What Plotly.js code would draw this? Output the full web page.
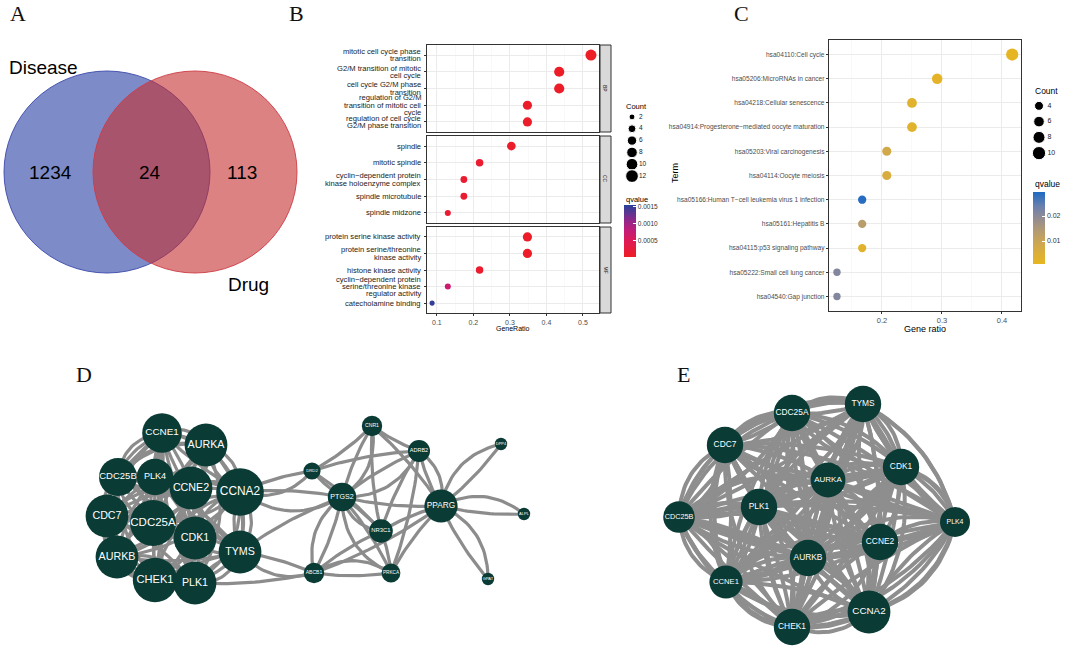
<!DOCTYPE html>
<html><head><meta charset="utf-8">
<script src="https://cdn.plot.ly/plotly-3.0.1.min.js"></script>
<style>html,body{margin:0;padding:0;background:#fff;}#chart{width:1065px;height:650px;}</style>
</head><body><div id="chart"></div>
<script>
const W = 1065, H = 650;
// ================= DATA =================
// Panel A: Venn
const vennLabels = ['Disease', 'Drug'];
const vennCounts = [1234, 24, 113]; // disease only, shared, drug only

// Panel B: GO enrichment (BP / CC / MF)
const bpTerms = ['mitotic cell cycle phase<br>transition', 'G2/M transition of mitotic<br>cell cycle', 'cell cycle G2/M phase<br>transition', 'regulation of G2/M<br>transition of mitotic cell<br>cycle', 'regulation of cell cycle<br>G2/M phase transition'];
const bpRatio = [0.522, 0.435, 0.435, 0.348, 0.348];
const bpCount = [12, 10, 10, 8, 8];
const bpQ = [0.00002, 0.00003, 0.00003, 0.00006, 0.00006];

const ccTerms = ['spindle', 'mitotic spindle', 'cyclin−dependent protein<br>kinase holoenzyme complex', 'spindle microtubule', 'spindle midzone'];
const ccRatio = [0.304, 0.217, 0.174, 0.174, 0.130];
const ccCount = [7, 5, 4, 4, 3];
const ccQ = [0.00008, 0.0001, 0.00012, 0.00012, 0.00015];

const mfTerms = ['protein serine kinase activity', 'protein serine/threonine<br>kinase activity', 'histone kinase activity', 'cyclin−dependent protein<br>serine/threonine kinase<br>regulator activity', 'catecholamine binding'];
const mfRatio = [0.348, 0.348, 0.217, 0.130, 0.087];
const mfCount = [8, 8, 5, 3, 2];
const mfQ = [0.00005, 0.00005, 0.0001, 0.0007, 0.0015];

const facetNames = ['BP', 'CC', 'MF'];
const bTicks = [0.1, 0.2, 0.3, 0.4, 0.5];
const bLegendCounts = [2, 4, 6, 8, 10, 12];
const bQTicks = [0.0005, 0.0010, 0.0015];
const bQTickText = ['0.0005', '0.0010', '0.0015'];

// Panel C: KEGG enrichment
const keggTerms = ['hsa04110:Cell cycle', 'hsa05206:MicroRNAs in cancer', 'hsa04218:Cellular senescence', 'hsa04914:Progesterone−mediated oocyte maturation', 'hsa05203:Viral carcinogenesis', 'hsa04114:Oocyte meiosis', 'hsa05166:Human T−cell leukemia virus 1 infection', 'hsa05161:Hepatitis B', 'hsa04115:p53 signaling pathway', 'hsa05222:Small cell lung cancer', 'hsa04540:Gap junction'];
const keggRatio = [0.417, 0.292, 0.250, 0.250, 0.208, 0.208, 0.167, 0.167, 0.167, 0.125, 0.125];
const keggCount = [10, 7, 6, 6, 5, 5, 4, 4, 4, 3, 3];
const keggQ = [0.0015, 0.0022, 0.003, 0.003, 0.008, 0.006, 0.029, 0.013, 0.003, 0.021, 0.021];
const cTicks = [0.2, 0.3, 0.4];
const cLegendCounts = [4, 6, 8, 10];
const cQTicks = [0.01, 0.02];

// Panel D: network (node names and degree-like scores)
const dNodes = ['CCNE1', 'AURKA', 'CDC25B', 'PLK4', 'CCNE2', 'CCNA2', 'CDC7', 'CDC25A', 'CDK1', 'TYMS', 'AURKB', 'CHEK1', 'PLK1',
  'CNR1', 'ADRB2', 'DPP4', 'DRD2', 'PTGS2', 'PPARG', 'ALPL', 'NR3C1', 'ABCB1', 'PRKCA', 'GPAT'];
const dScore = [21, 23, 20, 19, 23, 26, 23, 25, 23, 23, 23, 24, 23,
  9, 10, 4, 7, 14, 17, 4, 11, 9, 8, 4];
const dCluster = ['CCNE1', 'AURKA', 'CDC25B', 'PLK4', 'CCNE2', 'CCNA2', 'CDC7', 'CDC25A', 'CDK1', 'TYMS', 'AURKB', 'CHEK1', 'PLK1'];
const dLinks = [
  ['CCNA2', 'DRD2'], ['CCNA2', 'DRD2'], ['CCNA2', 'PTGS2'], ['CCNA2', 'PTGS2'], ['TYMS', 'ABCB1'], ['TYMS', 'ABCB1'], ['TYMS', 'PTGS2'], ['PLK1', 'ABCB1'],
  ['CNR1', 'DRD2'], ['CNR1', 'PTGS2'], ['CNR1', 'PTGS2'], ['CNR1', 'ADRB2'], ['CNR1', 'PPARG'], ['CNR1', 'NR3C1'],
  ['DRD2', 'ADRB2'], ['DRD2', 'PTGS2'], ['DRD2', 'NR3C1'],
  ['ADRB2', 'PTGS2'], ['ADRB2', 'PTGS2'], ['ADRB2', 'PPARG'], ['ADRB2', 'PPARG'], ['ADRB2', 'NR3C1'], ['ADRB2', 'PRKCA'],
  ['PTGS2', 'PPARG'], ['PTGS2', 'NR3C1'], ['PTGS2', 'NR3C1'], ['PTGS2', 'ABCB1'], ['PTGS2', 'ABCB1'], ['PTGS2', 'PRKCA'], ['PTGS2', 'PRKCA'],
  ['NR3C1', 'PPARG'], ['NR3C1', 'ABCB1'], ['NR3C1', 'PRKCA'],
  ['ABCB1', 'PRKCA'], ['ABCB1', 'PRKCA'], ['ABCB1', 'PPARG'], ['PRKCA', 'PPARG'],
  ['PPARG', 'DPP4'], ['PPARG', 'DPP4'], ['PPARG', 'ALPL'], ['PPARG', 'ALPL'], ['PPARG', 'GPAT'], ['PPARG', 'GPAT']
];
const dRing = ['CDC25B', 'CCNE1', 'AURKA', 'CCNA2', 'TYMS', 'PLK1', 'CHEK1', 'AURKB', 'CDC7'];

// Panel E: hub-gene network
const eNodes = ['TYMS', 'CDC25A', 'CDC7', 'CDK1', 'AURKA', 'PLK1', 'CDC25B', 'PLK4', 'CCNE2', 'AURKB', 'CCNE1', 'CCNA2', 'CHEK1'];
const eScore = [19, 19, 19, 19, 18, 19, 16, 15, 19, 19, 17, 23, 19];
const eRing = ['CDC25A', 'TYMS', 'CDK1', 'PLK4', 'CCNA2', 'CHEK1', 'CCNE1', 'CDC25B', 'CDC7'];

// ================= LAYOUT GEOMETRY =================
const dPos = {
  CCNE1: [162, 433], AURKA: [206, 445], CDC25B: [118, 477], PLK4: [155, 477], CCNE2: [191, 488], CCNA2: [240, 492],
  CDC7: [107, 516], CDC25A: [153, 523], CDK1: [195, 538], TYMS: [240, 552], AURKB: [117, 557], CHEK1: [155, 580], PLK1: [195, 583],
  CNR1: [372, 426], ADRB2: [419, 451], DPP4: [501, 444], DRD2: [312, 471], PTGS2: [342, 497], PPARG: [441, 506],
  ALPL: [524, 514], NR3C1: [381, 531], ABCB1: [314, 573], PRKCA: [391, 573], GPAT: [488, 579]
};
const ePos = {
  TYMS: [863, 404], CDC25A: [792, 413], CDC7: [725, 445], CDK1: [901, 467], AURKA: [828, 480], PLK1: [759, 507],
  CDC25B: [679, 517], PLK4: [955, 522], CCNE2: [880, 542], AURKB: [808, 558], CCNE1: [726, 582], CCNA2: [869, 612], CHEK1: [792, 627]
};

function dx(a, b) { return [a / W, b / W]; }
function dy(a, b) { return [1 - b / H, 1 - a / H]; }
const FONT = 'Liberation Sans, Arial, Helvetica, sans-serif';
const SERIF = 'Liberation Serif, Times New Roman, serif';

// ---- curves ----
function curvePts(p, q, c, n) {
  const mx = (p[0] + q[0]) / 2, my = (p[1] + q[1]) / 2;
  const ddx = q[0] - p[0], ddy = q[1] - p[1];
  const cx = mx - ddy * c, cy = my + ddx * c;
  const xs = [], ys = [];
  for (let i = 0; i <= n; i++) {
    const t = i / n;
    xs.push((1 - t) * (1 - t) * p[0] + 2 * (1 - t) * t * cx + t * t * q[0]);
    ys.push((1 - t) * (1 - t) * p[1] + 2 * (1 - t) * t * cy + t * t * q[1]);
  }
  return [xs, ys];
}
function outwardCurv(pos, a, b, mag, cen) {
  const p = pos[a], q = pos[b];
  const mx = (p[0] + q[0]) / 2, my = (p[1] + q[1]) / 2;
  const ddx = q[0] - p[0], ddy = q[1] - p[1];
  const d1 = Math.hypot(mx - ddy * mag - cen[0], my + ddx * mag - cen[1]);
  const d2 = Math.hypot(mx + ddy * mag - cen[0], my - ddx * mag - cen[1]);
  return d1 > d2 ? mag : -mag;
}
function centroid(pos, names) {
  let sx = 0, sy = 0; names.forEach(n => { sx += pos[n][0]; sy += pos[n][1]; });
  return [sx / names.length, sy / names.length];
}
function edgeTrace(pos, edges, xa, ya, width, color) {
  const x = [], y = [];
  edges.forEach(([a, b, c]) => {
    const [xs, ys] = curvePts(pos[a], pos[b], c, 22);
    x.push(...xs, null); y.push(...ys, null);
  });
  return { type: 'scatter', mode: 'lines', x, y, xaxis: xa, yaxis: ya, line: { color, width }, hoverinfo: 'skip', showlegend: false };
}
const curvPattern = [0.14, -0.2, 0.26, -0.1, 0.32, -0.28, 0.06, 0.2, -0.34];

// D edges
const dEdges = [];
for (let i = 0; i < dCluster.length; i++) for (let j = i + 1; j < dCluster.length; j++) {
  dEdges.push([dCluster[i], dCluster[j], curvPattern[(i * 5 + j * 3) % curvPattern.length]]);
}
const dCen = centroid(dPos, dCluster);
for (let k = 0; k < dRing.length; k++) {
  const a = dRing[k], b = dRing[(k + 1) % dRing.length], c2 = dRing[(k + 2) % dRing.length];
  dEdges.push([a, b, outwardCurv(dPos, a, b, 0.38, dCen)]);
  dEdges.push([a, c2, outwardCurv(dPos, a, c2, 0.3, dCen)]);
}
const seen = {};
dLinks.forEach(([a, b], i) => {
  const key = a + '-' + b; seen[key] = (seen[key] || 0) + 1;
  const occ = seen[key] - 1;
  const c = occ === 0 ? (i % 2 ? 0.07 : -0.07) : (i % 2 ? 0.32 : -0.32);
  dEdges.push([a, b, c]);
});

// E edges
const eEdges = [];
for (let i = 0; i < eNodes.length; i++) for (let j = i + 1; j < eNodes.length; j++) {
  const c = curvPattern[(i * 7 + j * 2) % curvPattern.length] * 0.8;
  eEdges.push([eNodes[i], eNodes[j], c]);
  eEdges.push([eNodes[i], eNodes[j], -c * 0.5]);
}
const eCen = centroid(ePos, eNodes);
for (let k = 0; k < eRing.length; k++) {
  const a = eRing[k], b = eRing[(k + 1) % eRing.length], c2 = eRing[(k + 2) % eRing.length];
  eEdges.push([a, b, outwardCurv(ePos, a, b, 0.3, eCen)]);
  eEdges.push([a, b, outwardCurv(ePos, a, b, 0.15, eCen)]);
  eEdges.push([a, c2, outwardCurv(ePos, a, c2, 0.22, eCen)]);
}

// ================= TRACES =================
const bScale = [[0, '#ee1d24'], [0.3, '#df1a55'], [0.5, '#c51c78'], [0.7, '#912789'], [0.85, '#5c3592'], [1, '#29409a']];
const cScale = [[0, '#e8b620'], [0.25, '#d2a94a'], [0.45, '#b59c70'], [0.65, '#8f8a94'], [0.8, '#6a80ad'], [1, '#1e6ac2']];
const bSize = c => 2.9 * Math.sqrt(c) + 1;
const cSize = c => 3.4 * Math.sqrt(c) + 1.5;
const bCmin = 0, bCmax = 0.00155;
const cCmin = 0.0008, cCmax = 0.0296;

function bTrace(terms, ratio, count, q, xa, ya, showscale) {
  return {
    type: 'scatter', mode: 'markers', x: ratio, y: terms, xaxis: xa, yaxis: ya, hoverinfo: 'skip', showlegend: false,
    marker: {
      size: count.map(bSize), color: q, colorscale: bScale, cmin: bCmin, cmax: bCmax, showscale, line: { width: 0 }, opacity: 1,
      colorbar: {
        x: 624 / W, xanchor: 'left', y: 1 - 205 / H, yanchor: 'top', len: 52, lenmode: 'pixels', thickness: 12, thicknessmode: 'pixels',
        xpad: 0, ypad: 0, outlinewidth: 0, tickvals: bQTicks, ticktext: bQTickText, ticks: 'inside', ticklen: 3, tickcolor: 'white',
        tickfont: { size: 6.5, color: '#333', family: FONT }
      }
    }
  };
}

const traces = [
  bTrace(bpTerms, bpRatio, bpCount, bpQ, 'x2', 'y2', true),
  bTrace(ccTerms, ccRatio, ccCount, ccQ, 'x3', 'y3', false),
  bTrace(mfTerms, mfRatio, mfCount, mfQ, 'x4', 'y4', false),
  {
    type: 'scatter', mode: 'markers', x: keggRatio, y: keggTerms, xaxis: 'x5', yaxis: 'y5', hoverinfo: 'skip', showlegend: false,
    marker: {
      size: keggCount.map(cSize), color: keggQ, colorscale: cScale, cmin: cCmin, cmax: cCmax, showscale: true, line: { width: 0 }, opacity: 1,
      colorbar: {
        x: 1033 / W, xanchor: 'left', y: 1 - 192 / H, yanchor: 'top', len: 72, lenmode: 'pixels', thickness: 12, thicknessmode: 'pixels',
        xpad: 0, ypad: 0, outlinewidth: 0, tickvals: cQTicks, ticktext: cQTicks.map(v => v.toFixed(2)), ticks: 'inside', ticklen: 3, tickcolor: 'white',
        tickfont: { size: 7, color: '#333', family: FONT }
      }
    }
  },
  // B count legend
  { type: 'scatter', mode: 'markers', x: bLegendCounts.map(() => 0), y: bLegendCounts.map(String), xaxis: 'x6', yaxis: 'y6', hoverinfo: 'skip', showlegend: false,
    marker: { size: bLegendCounts.map(c => bSize(c) * 1.15), color: '#000', opacity: 1 } },
  { type: 'scatter', mode: 'text', x: bLegendCounts.map(() => 1), y: bLegendCounts.map(String), text: bLegendCounts.map(String), textposition: 'middle right',
    xaxis: 'x6', yaxis: 'y6', hoverinfo: 'skip', showlegend: false, textfont: { size: 6.5, color: '#222', family: FONT } },
  // C count legend
  { type: 'scatter', mode: 'markers', x: cLegendCounts.map(() => 0), y: cLegendCounts.map(String), xaxis: 'x7', yaxis: 'y7', hoverinfo: 'skip', showlegend: false,
    marker: { size: cLegendCounts.map(c => cSize(c) * 1.08), color: '#000', opacity: 1 } },
  { type: 'scatter', mode: 'text', x: cLegendCounts.map(() => 1.2), y: cLegendCounts.map(String), text: cLegendCounts.map(String), textposition: 'middle right',
    xaxis: 'x7', yaxis: 'y7', hoverinfo: 'skip', showlegend: false, textfont: { size: 7, color: '#222', family: FONT } },
  // D network
  edgeTrace(dPos, dEdges, 'x8', 'y8', 3.2, '#8c8c8c'),
  { type: 'scatter', mode: 'markers+text', x: dNodes.map(n => dPos[n][0]), y: dNodes.map(n => dPos[n][1]), text: dNodes, textposition: 'middle center',
    xaxis: 'x8', yaxis: 'y8', hoverinfo: 'skip', showlegend: false,
    marker: { size: dScore.map(s => 6 + 1.6 * s), color: '#0a3b35', line: { width: 0 }, opacity: 1 },
    textfont: { color: '#ffffff', family: FONT, size: dScore.map(s => Math.max(4, (6 + 1.6 * s) * 0.25)) } },
  // E network
  edgeTrace(ePos, eEdges, 'x9', 'y9', 4, '#8e8e8e'),
  { type: 'scatter', mode: 'markers+text', x: eNodes.map(n => ePos[n][0]), y: eNodes.map(n => ePos[n][1]), text: eNodes, textposition: 'middle center',
    xaxis: 'x9', yaxis: 'y9', hoverinfo: 'skip', showlegend: false,
    marker: { size: eScore.map(s => 6 + 1.6 * s), color: '#0a3b35', line: { width: 0 }, opacity: 1 },
    textfont: { color: '#ffffff', family: FONT, size: eScore.map(s => (6 + 1.6 * s) * 0.23) } }
];

// ================= AXES =================
const hidden = { visible: false, fixedrange: true };
function bY(dom, terms, xa) {
  return { domain: dom, anchor: xa, type: 'category', categoryarray: terms, categoryorder: 'array', range: [terms.length - 0.4, -0.6],
    showline: true, mirror: true, linecolor: '#333', linewidth: 1.2, ticks: 'outside', ticklen: 2, tickcolor: '#333', showticklabels: false,
    showgrid: true, gridcolor: '#ebebeb', gridwidth: 1, zeroline: false, fixedrange: true };
}
function bX(ya, showLabels) {
  return { domain: dx(427, 599), anchor: ya, range: [0.073, 0.544], tickvals: bTicks, ticktext: bTicks.map(v => v.toFixed(1)),
    showticklabels: showLabels, ticks: showLabels ? 'outside' : '', ticklen: 2, tickcolor: '#333',
    showline: true, mirror: true, linecolor: '#333', linewidth: 1.2, showgrid: true, gridcolor: '#ebebeb', gridwidth: 1, zeroline: false,
    minor: { dtick: 0.05, tick0: 0, showgrid: true, gridcolor: '#f5f5f5', gridwidth: 0.6, ticks: '' },
    tickfont: { size: 7, color: '#4d4d4d', family: FONT }, fixedrange: true };
}

const layout = {
  width: W, height: H, margin: { l: 0, r: 0, t: 0, b: 0 }, paper_bgcolor: '#fff', plot_bgcolor: '#fff', showlegend: false,
  font: { family: FONT },
  xaxis: Object.assign({ domain: dx(0, 300), range: [0, 300], anchor: 'y' }, hidden),
  yaxis: Object.assign({ domain: dy(30, 300), range: [300, 30], anchor: 'x' }, hidden),
  xaxis2: bX('y2', false), yaxis2: bY(dy(45, 132), bpTerms, 'x2'),
  xaxis3: bX('y3', false), yaxis3: bY(dy(136, 223), ccTerms, 'x3'),
  xaxis4: bX('y4', true), yaxis4: bY(dy(227, 313), mfTerms, 'x4'),
  xaxis5: { domain: dx(829, 1021), anchor: 'y5', range: [0.1117, 0.4317], tickvals: cTicks, ticktext: cTicks.map(v => v.toFixed(1)),
    ticks: 'outside', ticklen: 2, tickcolor: '#333', showline: true, mirror: true, linecolor: '#333', linewidth: 1.2,
    showgrid: true, gridcolor: '#ebebeb', gridwidth: 1, zeroline: false,
    minor: { dtick: 0.05, tick0: 0, showgrid: true, gridcolor: '#f5f5f5', gridwidth: 0.6, ticks: '' },
    tickfont: { size: 7.5, color: '#4d4d4d', family: FONT }, fixedrange: true },
  yaxis5: { domain: dy(40, 311), anchor: 'x5', type: 'category', categoryarray: keggTerms, categoryorder: 'array', range: [keggTerms.length - 0.4, -0.6],
    showline: true, mirror: true, linecolor: '#333', linewidth: 1.2, ticks: 'outside', ticklen: 2, tickcolor: '#333',
    showgrid: true, gridcolor: '#ebebeb', gridwidth: 1, tickfont: { size: 6.6, color: '#4d4d4d', family: FONT }, zeroline: false, fixedrange: true },
  xaxis6: Object.assign({ domain: dx(625, 660), range: [-1, 4], anchor: 'y6' }, hidden),
  yaxis6: Object.assign({ domain: dy(111, 182), type: 'category', categoryarray: bLegendCounts.map(String), range: [5.5, -0.5], anchor: 'x6' }, hidden),
  xaxis7: Object.assign({ domain: dx(1032, 1064), range: [-1, 3.57], anchor: 'y7' }, hidden),
  yaxis7: Object.assign({ domain: dy(98, 161), type: 'category', categoryarray: cLegendCounts.map(String), range: [3.5, -0.5], anchor: 'x7' }, hidden),
  xaxis8: Object.assign({ domain: dx(55, 565), range: [55, 565], anchor: 'y8' }, hidden),
  yaxis8: Object.assign({ domain: dy(360, 645), range: [645, 360], anchor: 'x8' }, hidden),
  xaxis9: Object.assign({ domain: dx(640, 1010), range: [640, 1010], anchor: 'y9' }, hidden),
  yaxis9: Object.assign({ domain: dy(365, 650), range: [650, 365], anchor: 'x9' }, hidden),
  shapes: [
    { type: 'circle', xref: 'x', yref: 'y', x0: 4, x1: 210, y0: 71, y1: 273, fillcolor: 'rgba(38,63,163,0.6)', line: { color: 'rgba(60,72,170,0.9)', width: 1 }, layer: 'below' },
    { type: 'circle', xref: 'x', yref: 'y', x0: 93, x1: 297, y0: 71, y1: 273, fillcolor: 'rgba(197,47,47,0.6)', line: { color: 'rgba(205,60,70,0.9)', width: 1 }, layer: 'below' }
  ],
  annotations: []
};

// B term labels: one annotation per wrapped line, tight line spacing like ggplot
const LINE_GAP = 7.4;
[[bpTerms, 'y2'], [ccTerms, 'y3'], [mfTerms, 'y4']].forEach(([terms, ya]) => {
  terms.forEach((t, i) => {
    const lines = t.split('<br>');
    lines.forEach((ln, k) => {
      layout.annotations.push({ xref: 'paper', yref: ya, x: 422 / W, y: i, text: ln, showarrow: false, xanchor: 'right', yanchor: 'middle',
        yshift: -(k - (lines.length - 1) / 2) * LINE_GAP, font: { size: 7.6, color: '#222', family: FONT }, borderpad: 0 });
    });
  });
});

// strips for facets
const stripY = [[45, 132], [136, 223], [227, 313]];
facetNames.forEach((f, i) => {
  layout.shapes.push({ type: 'rect', xref: 'paper', yref: 'paper', x0: 600 / W, x1: 611 / W, y0: 1 - stripY[i][1] / H, y1: 1 - stripY[i][0] / H,
    fillcolor: '#d9d9d9', line: { color: '#333', width: 1 } });
  layout.annotations.push({ xref: 'paper', yref: 'paper', x: 605.5 / W, y: 1 - (stripY[i][0] + stripY[i][1]) / 2 / H, text: f, showarrow: false,
    textangle: 90, font: { size: 5, color: '#1a1a1a', family: FONT }, xanchor: 'center', yanchor: 'middle' });
});

function ann(x, y, text, size, opts) {
  return Object.assign({ xref: 'paper', yref: 'paper', x: x / W, y: 1 - y / H, text, showarrow: false, xanchor: 'center', yanchor: 'middle',
    font: { size, color: '#000', family: FONT } }, opts || {});
}
// panel letters
[['A', 18, 13], ['B', 296, 13], ['C', 741, 13], ['D', 84, 375], ['E', 683, 374]].forEach(([t, x, y]) => {
  layout.annotations.push(ann(x, y, t, 22, { font: { size: 22, color: '#111', family: SERIF } }));
});
// venn text
layout.annotations.push(ann(43, 67, vennLabels[0], 19));
layout.annotations.push(ann(248, 284, vennLabels[1], 19));
layout.annotations.push(ann(50, 172, String(vennCounts[0]), 19));
layout.annotations.push(ann(150, 172, String(vennCounts[1]), 19));
layout.annotations.push(ann(242, 172, String(vennCounts[2]), 19));
// B legend / axis titles
layout.annotations.push(ann(513, 328, 'GeneRatio', 7));
layout.annotations.push(ann(624, 106, 'Count', 7.5, { xanchor: 'left' }));
layout.annotations.push(ann(624, 199, 'qvalue', 7.5, { xanchor: 'left' }));
// C legend / axis titles
layout.annotations.push(ann(925, 329, 'Gene ratio', 9));
layout.annotations.push(ann(675, 173, 'Term', 9, { textangle: -90 }));
layout.annotations.push(ann(1033, 91, 'Count', 8.5, { xanchor: 'left' }));
layout.annotations.push(ann(1033, 184, 'qvalue', 8.5, { xanchor: 'left' }));

Plotly.newPlot('chart', traces, layout, { staticPlot: true, displayModeBar: false });
</script>
</body></html>
